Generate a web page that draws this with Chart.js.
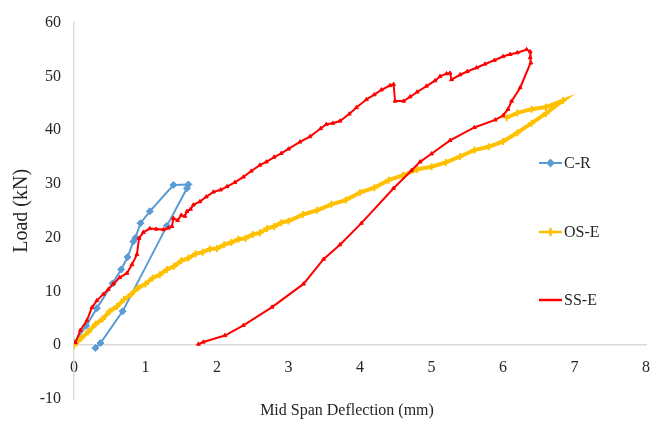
<!DOCTYPE html>
<html>
<head>
<meta charset="utf-8">
<title>Load vs Mid Span Deflection</title>
<script src="https://cdn.jsdelivr.net/npm/chart.js@4.4.1/dist/chart.umd.min.js"></script>
<style>
  html, body { margin: 0; padding: 0; background: #fff; }
  #wrap { width: 667px; height: 429px; position: relative; }
</style>
</head>
<body>
<div id="wrap"><canvas id="chart"></canvas></div>
<script>
// --- series (deflection mm, load kN) ---
const crDeflection = [0, 0.17, 0.32, 0.54, 0.66, 0.75, 0.83, 0.86, 0.93, 1.06, 1.39, 1.60, 1.58, 1.30, 0.68, 0.37, 0.30];
const crLoad       = [0.4, 3.6, 6.9, 11.5, 14.1, 16.4, 19.3, 20.0, 22.7, 24.9, 29.8, 29.9, 29.2, 22.2, 6.3, 0.4, -0.5];

const osDeflection = [0, 0.1, 0.2, 0.3, 0.4, 0.5, 0.6, 0.7, 0.8, 0.9, 1.0, 1.1, 1.2, 1.3, 1.4, 1.5, 1.6, 1.7, 1.8, 1.9,
  2.0, 2.1, 2.2, 2.3, 2.4, 2.5, 2.6, 2.7, 2.8, 2.9, 3.0, 3.2, 3.4, 3.6, 3.8, 4.0, 4.2, 4.4, 4.6, 4.8,
  5.0, 5.2, 5.4, 5.6, 5.8, 6.0, 6.2, 6.4, 6.6, 6.84, 6.6, 6.4, 6.2, 6.05];
const osLoad = [0, 1.3, 2.5, 3.9, 4.9, 6.3, 7.2, 8.5, 9.5, 10.7, 11.4, 12.5, 13.1, 14.1, 14.7, 15.7, 16.2, 17.0, 17.3, 17.9,
  18.0, 18.7, 19.1, 19.7, 19.9, 20.6, 20.9, 21.7, 22.1, 22.8, 23.1, 24.3, 25.1, 26.2, 27.0, 28.4, 29.3, 30.7, 31.6, 32.7,
  33.2, 34.0, 35.1, 36.3, 36.9, 37.9, 39.5, 41.3, 43.1, 45.5, 44.3, 43.9, 43.2, 42.3];

const ssDeflection = [0.02, 0.09, 0.18, 0.25, 0.32, 0.41, 0.48, 0.55, 0.64, 0.74, 0.81, 0.88, 0.91, 0.97, 1.06, 1.15, 1.25, 1.32, 1.37, 1.39,
  1.45, 1.50, 1.55, 1.58, 1.63, 1.67, 1.76, 1.85, 1.95, 2.05, 2.14, 2.25, 2.37, 2.48, 2.60, 2.69, 2.80, 2.90, 3.00, 3.16,
  3.30, 3.45, 3.53, 3.62, 3.72, 3.85, 3.95, 4.09, 4.20, 4.30, 4.42, 4.47, 4.49, 4.61, 4.70, 4.80, 4.93, 5.05, 5.12, 5.21,
  5.26, 5.28, 5.40, 5.50, 5.63, 5.75, 5.88, 6.00, 6.10, 6.20, 6.33, 6.38, 6.38, 6.39,
  6.24, 6.12, 6.07, 6.00, 5.89, 5.60, 5.26, 5.00, 4.84, 4.72, 4.47, 4.02, 3.72, 3.49, 3.21, 2.77, 2.37, 2.11, 1.81, 1.74];
const ssLoad = [0.5, 2.8, 4.6, 7.0, 8.3, 9.5, 10.4, 11.4, 12.6, 13.4, 15.0, 16.9, 19.9, 21.0, 21.7, 21.6, 21.5, 21.8, 22.1, 23.6,
  23.2, 24.2, 24.0, 24.9, 25.3, 26.1, 26.7, 27.6, 28.5, 28.9, 29.5, 30.3, 31.3, 32.4, 33.5, 34.1, 35.0, 35.7, 36.5, 37.8,
  38.8, 40.3, 41.1, 41.3, 41.7, 43.0, 44.2, 45.7, 46.6, 47.5, 48.3, 48.5, 45.4, 45.4, 46.2, 47.1, 48.2, 49.2, 50.0, 50.5,
  50.6, 49.4, 50.3, 50.9, 51.6, 52.3, 53.0, 53.7, 54.1, 54.4, 55.0, 54.6, 53.5, 52.5,
  47.9, 45.4, 43.9, 42.7, 41.9, 40.5, 38.1, 35.6, 34.1, 32.5, 29.2, 22.7, 18.7, 16.0, 11.4, 7.1, 3.7, 1.8, 0.6, 0.2];

const seriesNames = ['C-R', 'OS-E', 'SS-E'];
const xTicksMinMax = [0, 8];
const yTicksMinMax = [-10, 60];
const xTitle = 'Mid Span Deflection (mm)';
const yTitle = 'Load (kN)';

const SERIF = '"Liberation Serif", "Times New Roman", serif';
const TEXT_COLOR = '#262626';
const AXIS_COLOR = '#d9d9d9';

const toPoints = (xs, ys) => xs.map((x, i) => ({ x: x, y: ys[i] }));

// legend on the right side, plus the horizontal axis title under the plot
const sideLegend = {
  id: 'sideLegend',
  afterDraw(chart) {
    const { ctx } = chart;
    const rows = [163, 232, 300];
    ctx.save();
    ctx.font = '16px ' + SERIF;
    ctx.fillStyle = TEXT_COLOR;
    ctx.textBaseline = 'middle';
    ctx.textAlign = 'center';
    ctx.fillText(xTitle, 347, 411);

    ctx.textAlign = 'left';
    chart.data.datasets.forEach((ds, i) => {
      const y = rows[i];
      ctx.strokeStyle = ds.borderColor;
      ctx.fillStyle = ds.borderColor;
      ctx.lineWidth = ds.legendLineWidth;
      ctx.beginPath();
      ctx.moveTo(539, y);
      ctx.lineTo(562, y);
      ctx.stroke();
      if (ds.legendMarker) {
        Chart.helpers.drawPoint(ctx, {
          pointStyle: ds.legendMarker,
          radius: ds.legendMarkerRadius,
          rotation: 0,
          borderWidth: 1.5
        }, 550.5, y);
      }
      ctx.fillStyle = TEXT_COLOR;
      ctx.fillText(ds.label, 564, y + 1);
    });
    ctx.restore();
  }
};

new Chart(document.getElementById('chart'), {
  type: 'scatter',
  data: {
    datasets: [
      {
        label: seriesNames[0],
        data: toPoints(crDeflection, crLoad),
        showLine: true,
        borderColor: '#5b9bd5',
        backgroundColor: '#5b9bd5',
        borderWidth: 2,
        pointStyle: 'rectRot',
        pointRadius: 3.5,
        pointBorderWidth: 1,
        legendMarker: 'rectRot',
        legendMarkerRadius: 3,
        legendLineWidth: 2,
        order: 3
      },
      {
        label: seriesNames[1],
        data: toPoints(osDeflection, osLoad),
        showLine: true,
        borderColor: '#ffc000',
        backgroundColor: '#ffc000',
        borderWidth: 4,
        pointStyle: 'cross',
        pointRadius: 3.5,
        pointBorderWidth: 2,
        legendMarker: 'cross',
        legendMarkerRadius: 4,
        legendLineWidth: 2.5,
        order: 2
      },
      {
        label: seriesNames[2],
        data: toPoints(ssDeflection, ssLoad),
        showLine: true,
        borderColor: '#ff0000',
        backgroundColor: '#ff0000',
        borderWidth: 2,
        pointStyle: 'triangle',
        pointRadius: 2.2,
        pointBorderWidth: 1,
        legendMarker: null,
        legendLineWidth: 2.5,
        order: 1
      }
    ]
  },
  options: {
    responsive: true,
    maintainAspectRatio: false,
    animation: false,
    layout: { padding: { left: 0, top: 19, right: 21, bottom: 30 } },
    plugins: {
      legend: { display: false },
      tooltip: { enabled: false }
    },
    scales: {
      x: {
        type: 'linear',
        position: { y: 0 },
        min: xTicksMinMax[0],
        max: xTicksMinMax[1],
        grid: { display: false, drawTicks: false },
        border: { display: true, color: AXIS_COLOR, width: 1.5 },
        ticks: { stepSize: 1, padding: 13, color: TEXT_COLOR, font: { family: SERIF, size: 16 } }
      },
      y: {
        type: 'linear',
        min: yTicksMinMax[0],
        max: yTicksMinMax[1],
        afterFit(scale) { scale.width = 74; },
        grid: { display: false, drawTicks: false },
        border: { display: true, color: AXIS_COLOR, width: 1.5 },
        ticks: { stepSize: 10, padding: 13, color: TEXT_COLOR, font: { family: SERIF, size: 16 } },
        title: {
          display: true,
          text: yTitle,
          color: TEXT_COLOR,
          padding: { top: 10, bottom: 0 },
          font: { family: SERIF, size: 20 }
        }
      }
    }
  },
  plugins: [sideLegend]
});
</script>
</body>
</html>
